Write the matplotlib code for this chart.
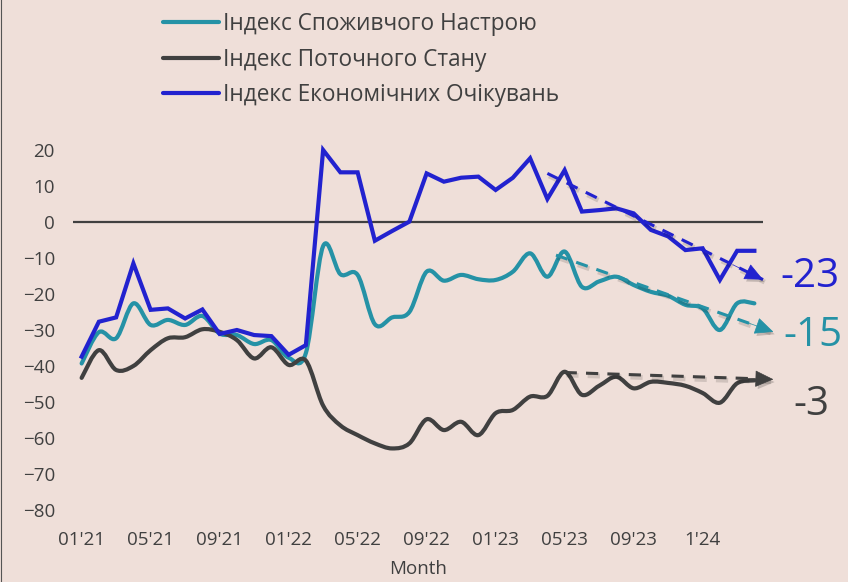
import numpy as np
import matplotlib.pyplot as plt
import matplotlib.patheffects as pe
from matplotlib.path import Path
from matplotlib.patches import PathPatch
from matplotlib.lines import Line2D

plt.rcParams['font.family'] = ['Open Sans', 'DejaVu Sans']

# monthly data, 01'21 .. 04'24
tick_labels = ["01'21", "05'21", "09'21", "01'22", "05'22", "09'22",
               "01'23", "05'23", "09'23", "1'24"]

sentiment = [-39.3, -30.6, -32.3, -22.6, -28.6, -27.2, -28.6, -26.1, -31.0, -31.4,
             -33.9, -32.8, -37.7, -36.4, -6.7, -14.5, -14.7, -28.4, -26.5, -25.0,
             -13.8, -16.3, -14.7, -15.9, -16.1, -13.8, -8.7, -15.2, -8.2, -18.0,
             -16.5, -15.2, -17.5, -19.4, -20.5, -23.0, -24.0, -30.0, -22.6, -22.6]

current = [-43.3, -35.6, -41.1, -40.0, -35.6, -32.3, -32.0, -29.8, -30.5, -32.8,
           -37.9, -34.8, -39.7, -38.5, -51.0, -56.5, -59.2, -61.5, -62.9, -61.5,
           -54.8, -57.8, -55.5, -59.2, -53.1, -52.2, -48.5, -48.3, -41.6, -48.0,
           -45.5, -43.0, -46.2, -44.4, -44.7, -45.5, -47.5, -50.2, -44.8, -44.0]

expectations = [-37.4, -27.7, -26.5, -11.5, -24.4, -24.0, -26.8, -24.3, -31.1, -30.0,
                -31.4, -31.7, -36.9, -34.2, 20.0, 13.8, 13.8, -5.2, -2.5, 0.1,
                13.5, 11.2, 12.3, 12.6, 8.9, 12.3, 17.7, 6.4, 14.4, 2.9,
                3.3, 3.8, 2.4, -2.2, -4.0, -7.8, -7.3, -16.1, -8.0, -8.0]

labels = ["Індекс Споживчого Настрою", "Індекс Поточного Стану",
          "Індекс Економічних Очікувань"]

# trend arrows: (month index, value) start and end, and the change shown
trend_start = [(27.5, -9.2), (28.0, -41.8), (27.0, 13.5)]
trend_end = [(40.1, -30.5), (40.1, -43.7), (39.5, -16.0)]
trend_text = ["-15", "-3", "-23"]

colors = ['#2592A6', '#404040', '#2222CF']
bg = '#EFDFD9'
text_offsets = [(7, -2.5), (14.5, -18), (12.5, 2)]


def smooth_path(y):
    # catmull-rom as cubic beziers, like a "smoothed line" in a spreadsheet
    x = np.arange(len(y), dtype=float)
    p = np.column_stack([x, np.asarray(y, dtype=float)])
    pp = np.vstack([p[0], p, p[-1]])
    verts = [p[0]]
    codes = [Path.MOVETO]
    for i in range(len(p) - 1):
        p0, p1, p2, p3 = pp[i], pp[i + 1], pp[i + 2], pp[i + 3]
        verts += [p1 + (p2 - p0) / 6, p2 - (p3 - p1) / 6, p2]
        codes += [Path.CURVE4] * 3
    return Path(verts, codes)


fig = plt.figure(figsize=(8.48, 5.82), dpi=100, facecolor=bg)
ax = fig.add_axes([73 / 848, 1 - 510 / 582, 690 / 848, 360 / 582])
ax.set_facecolor(bg)

ax.axhline(0, color='#404040', lw=1.6, zorder=1)

x = np.arange(len(expectations))
for series, c in [(sentiment, colors[0]), (current, colors[1])]:
    ax.add_patch(PathPatch(smooth_path(series), fill=False, edgecolor=c,
                           lw=3, capstyle='round', joinstyle='round',
                           zorder=3, clip_on=False))
ax.plot(x, expectations, color=colors[2], lw=3, solid_joinstyle='miter',
        zorder=4, clip_on=False)

line_shadow = [pe.SimpleLineShadow(offset=(1.2, -1.8), shadow_color='k', alpha=0.13,
                                   linewidth=3.5),
               pe.Normal()]
head_shadow = [pe.SimplePatchShadow(offset=(1.5, -2), shadow_rgbFace='k', alpha=0.18),
               pe.Normal()]
for s, e, c, t, off in zip(trend_start, trend_end, colors, trend_text, text_offsets):
    s = np.array(s)
    e = np.array(e)
    ax.plot([s[0], e[0]], [s[1], e[1]], color=c, lw=2.2, dashes=(4, 3),
            zorder=5, clip_on=False, path_effects=line_shadow)
    back = e - 0.14 * (e - s)
    ax.annotate('', xy=e, xytext=back, annotation_clip=False, zorder=5,
                arrowprops=dict(arrowstyle='-|>,head_length=1.2,head_width=0.55',
                                lw=0.5, color=c, shrinkA=0, shrinkB=0,
                                path_effects=head_shadow))
    ax.annotate(t, xy=e, xytext=off, textcoords='offset points',
                ha='left', va='center', fontsize=29, color=c,
                annotation_clip=False)

ax.set_xlim(-0.5, len(expectations) - 0.5)
ax.set_ylim(-80, 20)
ax.set_xticks(range(0, 4 * len(tick_labels), 4))
ax.set_xticklabels(tick_labels)
ax.set_yticks(range(-80, 21, 10))
ax.tick_params(axis='both', length=0, labelsize=13.5, labelcolor='#404040')
ax.tick_params(axis='y', pad=13)
ax.tick_params(axis='x', pad=15)
ax.set_xlabel('Month', fontsize=13.5, color='#404040', labelpad=8)
for sp in ax.spines.values():
    sp.set_visible(False)

handles = [Line2D([], [], color=c, lw=3, solid_capstyle='round') for c in colors]
fig.legend(handles, labels, loc='upper left',
           bbox_to_anchor=(143 / 848, 1 + 8 / 582), frameon=False,
           fontsize=16.3, handlelength=2.45, handletextpad=0.2,
           labelspacing=0.5, labelcolor='#404040')

fig.add_artist(Line2D([0.001, 0.001], [0, 1], color='#555555', lw=0.8))

fig.savefig('out.png', dpi=100, facecolor=bg)
